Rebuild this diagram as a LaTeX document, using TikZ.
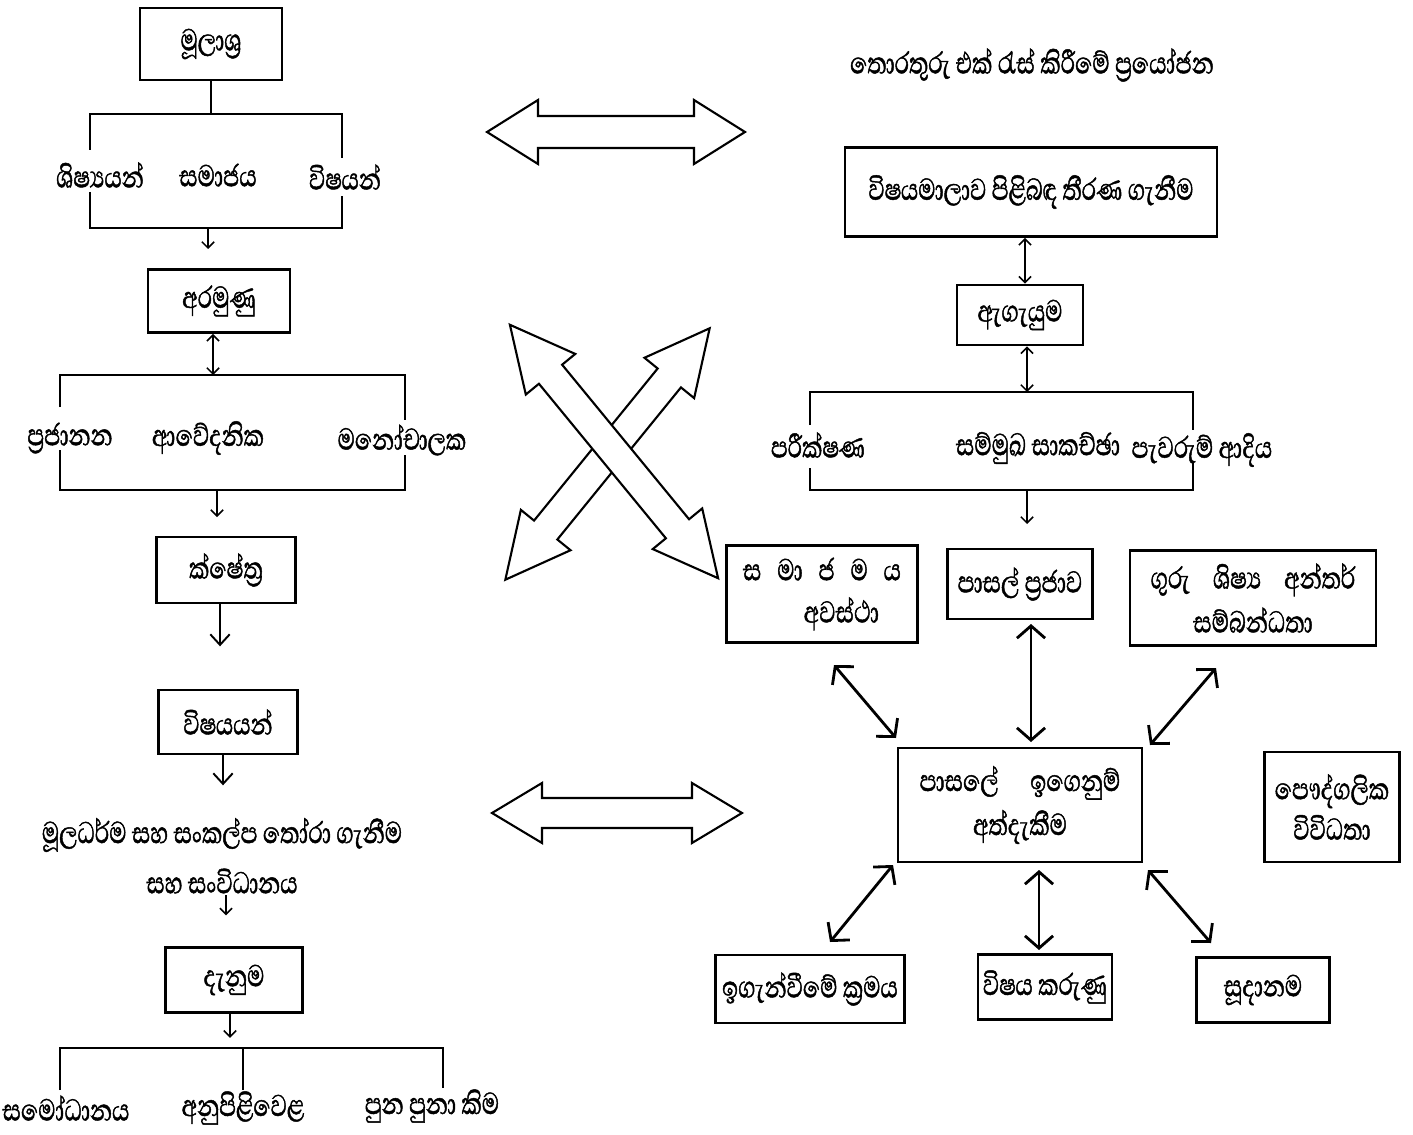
\documentclass[tikz,border=0pt]{standalone}
\usepackage{fontspec}
\setmainfont{Abhaya Libre}[Script=Sinhala, FakeStretch=0.74, FakeBold=1.2]
\usetikzlibrary{arrows.meta}
\begin{document}
\begin{tikzpicture}[x=0.02cm,y=-0.02cm,
  bx/.style={draw, line width=1.5pt, align=center, inner sep=2pt, font=\fontsize{22}{24}\selectfont},
  lbl/.style={inner sep=1pt, font=\fontsize{22}{24}\selectfont},
  br/.style={line width=1.3pt},
  sarr/.style={line width=0.9pt, -{Straight Barb[length=3.5pt,width=7pt]}},
  dsarr/.style={line width=0.9pt, {Straight Barb[length=3.5pt,width=7pt]}-{Straight Barb[length=3.5pt,width=7pt]}},
  marr/.style={line width=1.1pt, -{Straight Barb[length=6pt,width=11pt]}},
  conn/.style={line width=1.6pt, {Straight Barb[length=7pt,width=16pt]}-{Straight Barb[length=7pt,width=16pt]}},
  blk/.style={line width=1.2pt, fill=white, line join=miter}]
\useasboundingbox (0,0) rectangle (1413,1135);

% ---------- left column ----------
\node[bx, minimum width=2.84cm, minimum height=1.44cm] (src) at (211,44) {මූලාශ්‍ර};
\coordinate (b1t) at (211,114);
\draw[br] (src) -- (b1t);
\draw[br] (90,150) -- (90,114) -- (342,114) -- (342,158);
\draw[br] (90,192) -- (90,228) -- (342,228) -- (342,196);
\node[lbl] (l11) at (100,175) {ශිෂ්‍යයන්};
\node[lbl] (l12) at (218,175) {සමාජය};
\node[lbl] (l13) at (345,177) {විෂයන්};
\coordinate (b1b) at (208,228);
\draw[sarr] (b1b) -- ++(0,21);

\node[bx, minimum width=2.84cm, minimum height=1.26cm] (aram) at (219,301) {අරමුණු};
\coordinate (b2t) at (213,375);
\draw[dsarr] (b2t) -- (b2t |- aram.south);
\draw[br] (60,407) -- (60,375) -- (405,375) -- (405,420);
\draw[br] (60,450) -- (60,490) -- (405,490) -- (405,455);
\node[lbl] (l21) at (70,438) {ප්‍රජානන};
\node[lbl] (l22) at (208,438) {ආවේදනික};
\node[lbl] (l23) at (402,440) {මනෝචාලක};
\coordinate (b2b) at (217,490);
\draw[sarr] (b2b) -- ++(0,27);

\node[bx, minimum width=2.78cm, minimum height=1.32cm] (kshe) at (226,570) {ක්ෂේත්‍ර};
\draw[marr] (kshe.south -| 220,0) -- ++(0,42);

\node[bx, minimum width=2.78cm, minimum height=1.28cm] (vish) at (228,722) {විෂයයන්};
\draw[marr] (vish.south -| 223,0) -- ++(0,30);

\node[lbl] (t1) at (222,835) {මූලධර්ම සහ සංකල්ප තෝරා ගැනීම};
\node[lbl] (t2) at (222,881) {සහ සංවිධානය};
\draw[sarr] (t2.south -| 226,0) -- ++(0,20);

\node[bx, minimum width=2.74cm, minimum height=1.30cm] (dan) at (234,980) {දැනුම};
\draw[sarr] (dan.south -| 230,0) -- ++(0,24);
\draw[br] (60,1090) -- (60,1048) -- (443,1048) -- (443,1088);
\draw[br] (243,1048) -- (243,1090);
\node[lbl] (l31) at (66,1108) {සමෝධානය};
\node[lbl] (l32) at (243,1108) {අනුපිළිවෙළ};
\node[lbl] (l33) at (432,1106) {පුන පුනා කිම};

% ---------- block arrows ----------
\begin{scope}[shift={(616,132)}]
\draw[blk] (-129,0) -- (-78,-32) -- (-78,-16) -- (78,-16) -- (78,-32) -- (129,0) -- (78,32) -- (78,16) -- (-78,16) -- (-78,32) -- cycle;
\end{scope}
\begin{scope}[shift={(617,813)}]
\draw[blk] (-125,0) -- (-75,-30) -- (-75,-15) -- (75,-15) -- (75,-30) -- (125,0) -- (75,30) -- (75,15) -- (-75,15) -- (-75,30) -- cycle;
\end{scope}
\begin{scope}[shift={(607.5,454)}, rotate=50.9]
\draw[blk] (-162,0) -- (-98,-32) -- (-98,-15) -- (98,-15) -- (98,-32) -- (162,0) -- (98,32) -- (98,15) -- (-98,15) -- (-98,32) -- cycle;
\end{scope}
\begin{scope}[shift={(614,451.5)}, rotate=-50.6]
\draw[blk] (-164,0) -- (-100,-32) -- (-100,-15) -- (100,-15) -- (100,-32) -- (164,0) -- (100,32) -- (100,15) -- (-100,15) -- (-100,32) -- cycle;
\end{scope}

% ---------- right side ----------
\node[lbl] (title) at (1032,65) {තොරතුරු එක් රැස් කිරීමේ ප්‍රයෝජන};
\node[bx, minimum width=7.44cm, minimum height=1.78cm] (tir) at (1031,192) {විෂයමාලාව පිළිබඳ තීරණ ගැනීම};
\node[bx, minimum width=2.52cm, minimum height=1.20cm] (ega) at (1020,315) {ඇගැයුම};
\draw[dsarr] (ega.north -| 1025,0) -- (tir.south -| 1025,0);
\coordinate (b3t) at (1027,392);
\draw[dsarr] (b3t) -- (b3t |- ega.south);
\draw[br] (810,425) -- (810,392) -- (1193,392) -- (1193,430);
\draw[br] (810,468) -- (810,490) -- (1193,490) -- (1193,462);
\node[lbl] (l41) at (818,445) {පරීක්ෂණ};
\node[lbl] (l42) at (1038,448) {සම්මුඛ සාකච්ඡා};
\node[lbl] (l43) at (1202,450) {පැවරුම් ආදිය};
\coordinate (b3b) at (1027,490);
\draw[sarr] (b3b) -- ++(0,34);

\node[bx, minimum width=3.82cm, minimum height=1.94cm, font=\fontsize{22}{24}\selectfont] (sam) at (822,594) {ස\hspace{9pt}මා\hspace{9pt}ජ\hspace{9pt}ම\hspace{9pt}ය\\\hspace{22pt}අවස්ථා};
\node[bx, minimum width=2.90cm, minimum height=1.40cm] (pra) at (1020,584) {පාසල් ප්‍රජාව};
\node[bx, minimum width=4.92cm, minimum height=1.90cm, font=\fontsize{22}{25}\selectfont] (guru) at (1253,598) {ගුරු\hspace{13pt}ශිෂ්‍ය\hspace{13pt}අන්තර්\\සම්බන්ධතා};
\node[bx, minimum width=4.88cm, minimum height=2.28cm, font=\fontsize{22}{25}\selectfont] (ctr) at (1020,805) {පාසලේ\hspace{18pt}ඉගෙනුම්\\අත්දැකීම};
\node[bx, minimum width=2.70cm, minimum height=2.20cm, font=\fontsize{22}{23}\selectfont] (pau) at (1332,807) {පෞද්ගලික\\විවිධතා};
\node[bx, minimum width=3.78cm, minimum height=1.36cm] (iga) at (810,989) {ඉගැන්වීමේ ක්‍රමය};
\node[bx, minimum width=2.68cm, minimum height=1.30cm] (vk) at (1045,987) {විෂය කරුණු};
\node[bx, minimum width=2.66cm, minimum height=1.30cm] (sud) at (1263,990) {සූදානම};

\coordinate (c1a) at (834,665); \coordinate (c1b) at (896,738);
\coordinate (c2a) at (1031,624); \coordinate (c2b) at (1031,742);
\coordinate (c3a) at (1216,668); \coordinate (c3b) at (1150,745);
\coordinate (c4a) at (893,865); \coordinate (c4b) at (830,942);
\coordinate (c5a) at (1039,870); \coordinate (c5b) at (1039,950);
\coordinate (c6a) at (1148,870); \coordinate (c6b) at (1211,943);
\draw[conn] (c1a) -- (c1b);
\draw[conn] (c2a) -- (c2b);
\draw[conn] (c3a) -- (c3b);
\draw[conn] (c4a) -- (c4b);
\draw[conn] (c5a) -- (c5b);
\draw[conn] (c6a) -- (c6b);
\end{tikzpicture}
\end{document}
